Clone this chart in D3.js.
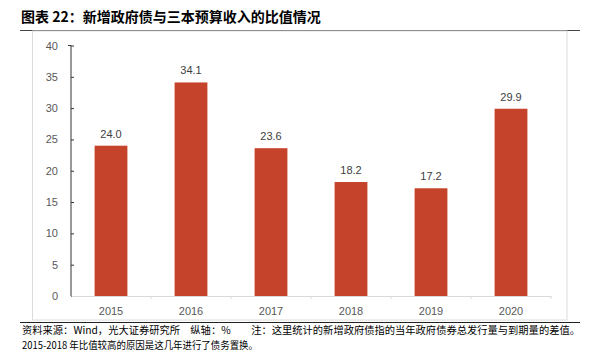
<!DOCTYPE html>
<html><head><meta charset="utf-8">
<script src="https://cdn.jsdelivr.net/npm/d3@7"></script>
<style>body{margin:0;background:#fff}svg{display:block}</style>
</head><body>
<svg id="c" width="596" height="359"></svg>
<script>
const categories = ["2015","2016","2017","2018","2019","2020"];
const values = [24.0, 34.1, 23.6, 18.2, 17.2, 29.9];
const yTicks = [0,5,10,15,20,25,30,35,40];
const title = "图表 22：新增政府债与三本预算收入的比值情况";
const note1 = "资料来源：Wind，光大证券研究所　纵轴：%　　注：这里统计的新增政府债指的当年政府债券总发行量与到期量的差值。";
const note2 = "2015-2018 年比值较高的原因是这几年进行了债务置换。";

const svg = d3.select("#c");
const cjk = "'Noto Sans CJK SC', sans-serif";
const num = "'Liberation Sans', Arial, sans-serif";

svg.append("text").attr("x",21).attr("y",22).attr("font-family",cjk).attr("font-weight","bold")
  .attr("font-size",14).attr("fill","#000").text(title);
svg.append("line").attr("x1",20).attr("x2",580).attr("y1",30.5).attr("y2",30.5).attr("stroke","#444").attr("stroke-width",1);
svg.append("rect").attr("x",32.5).attr("y",31).attr("width",534.5).attr("height",289).attr("fill","none").attr("stroke","#dcdcdc");

const x = d3.scaleBand().domain(categories).range([71,551]).paddingInner(0.59).paddingOuter(0.295);
const xb = d3.scaleBand().domain(categories).range([71,551]);
const y = d3.scaleLinear().domain([0,40]).range([296,45.5]);

// y axis
const ya = svg.append("g").attr("transform","translate(71,0)")
  .call(d3.axisLeft(y).tickValues(yTicks).tickSize(-3).tickPadding(13).tickFormat(d3.format("d")));
ya.select(".domain").attr("stroke","#333").attr("d","M-3,"+y(40)+"H0V"+y(0)+"H0");
ya.selectAll(".tick line").attr("stroke","#333");
ya.selectAll("text").attr("font-family",num).attr("font-size",11).attr("fill","#595959");

// x axis
const xa = svg.append("g").attr("transform","translate(0,296)")
  .call(d3.axisBottom(xb).tickSize(0).tickPadding(11));
xa.select(".domain").attr("stroke","#d9d9d9");
xa.selectAll("text").attr("font-family",num).attr("font-size",11).attr("fill","#595959");
xa.selectAll(".bnd").data(categories.slice(1)).enter().append("line")
  .attr("x1",d=>xb(d)).attr("x2",d=>xb(d)).attr("y1",0).attr("y2",3).attr("stroke","#d9d9d9");
xa.append("line").attr("x1",551).attr("x2",551).attr("y1",0).attr("y2",3).attr("stroke","#d9d9d9");

svg.selectAll(".bar").data(values).enter().append("rect")
  .attr("x",(d,i)=>x(categories[i])).attr("width",x.bandwidth())
  .attr("y",d=>y(d)).attr("height",d=>y(0)-y(d)).attr("fill","#C5432A");

svg.selectAll(".lbl").data(values).enter().append("text")
  .attr("x",(d,i)=>x(categories[i])+x.bandwidth()/2).attr("y",d=>y(d)-8)
  .attr("text-anchor","middle").attr("font-family",num).attr("font-size",11).attr("fill","#404040")
  .text(d=>d.toFixed(1));

svg.append("line").attr("x1",20).attr("x2",580).attr("y1",322.5).attr("y2",322.5).attr("stroke","#222");
svg.append("text").attr("x",22).attr("y",334).attr("font-family",cjk).attr("font-size",10).attr("fill","#000").attr("textLength",558).attr("lengthAdjust","spacingAndGlyphs").text(note1);
svg.append("text").attr("x",22).attr("y",349).attr("font-family",cjk).attr("font-size",10).attr("fill","#000").attr("textLength",236).attr("lengthAdjust","spacingAndGlyphs").text(note2);
</script>
</body></html>
